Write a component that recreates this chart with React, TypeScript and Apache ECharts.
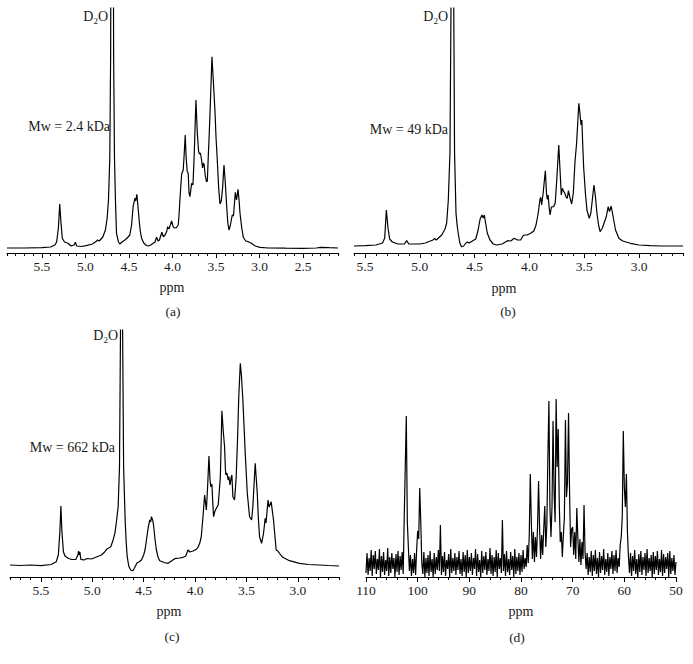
import React, { useEffect, useRef } from "react";
import * as echarts from "echarts";

const SERIF = "Liberation Serif, Times New Roman, serif";
const INK = "#1a1a1a";

// (a) 1H NMR, Mw = 2.4 kDa : [ppm, intensity]
const spectrumA: number[][] = [
  [5.9, 5], [5.7, 5], [5.5, 5.3], [5.4, 6], [5.35, 8], [5.33, 11], [5.31, 25], [5.295, 49], [5.28, 30],
  [5.265, 14.7], [5.24, 11], [5.2, 9.7], [5.165, 7], [5.13, 8], [5.115, 10.7], [5.1, 7], [5.05, 6.5],
  [4.99, 7.3], [4.92, 9], [4.87, 12], [4.86, 13], [4.84, 12], [4.8, 16], [4.77, 23], [4.75, 35],
  [4.735, 53], [4.72, 95], [4.71, 200], [4.70, 600], [4.693, 2000], [4.686, 600], [4.676, 200],
  [4.666, 95], [4.655, 53], [4.643, 19.7], [4.62, 11], [4.605, 9], [4.58, 11], [4.547, 13], [4.52, 15],
  [4.49, 18], [4.47, 28], [4.452, 46.3], [4.432, 54.7], [4.422, 52], [4.409, 58.7], [4.395, 45],
  [4.383, 33], [4.37, 22], [4.355, 14.7], [4.33, 10], [4.3, 7.5], [4.279, 7], [4.25, 8], [4.222, 9.7],
  [4.2, 11], [4.183, 15.7], [4.165, 12], [4.15, 13], [4.122, 20.7], [4.105, 16.3], [4.085, 18],
  [4.065, 22], [4.056, 26.3], [4.04, 24], [4.01, 32], [3.995, 27], [3.984, 25.3], [3.96, 25],
  [3.934, 28], [3.925, 38], [3.915, 53], [3.895, 79], [3.877, 83], [3.865, 100], [3.854, 118],
  [3.843, 95], [3.831, 81.3], [3.82, 80], [3.81, 60], [3.8, 56.3], [3.78, 69.7], [3.765, 68],
  [3.75, 100], [3.731, 153], [3.715, 120], [3.7, 101.3], [3.69, 99], [3.68, 100], [3.666, 93],
  [3.655, 85], [3.645, 90], [3.636, 88], [3.625, 78], [3.61, 71.3], [3.6, 72], [3.59, 95],
  [3.578, 119.7], [3.565, 150], [3.547, 196.3], [3.53, 170], [3.513, 143], [3.5, 115], [3.486, 93],
  [3.47, 65], [3.455, 49], [3.44, 52], [3.425, 65], [3.409, 88], [3.395, 72], [3.38, 49.7],
  [3.365, 30], [3.352, 23], [3.335, 28], [3.314, 38], [3.3, 37], [3.279, 60.7], [3.265, 53],
  [3.248, 63.7], [3.235, 52], [3.225, 39.7], [3.205, 25], [3.187, 15.7], [3.16, 12], [3.13, 11.3],
  [3.1, 10], [3.05, 7], [2.995, 5.7], [2.9, 5], [2.7, 4.8], [2.5, 4.7], [2.35, 5], [2.3, 5.7],
  [2.2, 5.3], [2.1, 5],
];

// (b) 1H NMR, Mw = 49 kDa
const spectrumB: number[][] = [
  [5.6, 7], [5.5, 7.3], [5.4, 8], [5.34, 10], [5.32, 15], [5.305, 43], [5.29, 25], [5.275, 14],
  [5.25, 11], [5.2, 9], [5.14, 9], [5.12, 12.3], [5.1, 9], [5.0, 9], [4.95, 10], [4.88, 13],
  [4.865, 14.7], [4.85, 13], [4.8, 18], [4.77, 24], [4.755, 30], [4.74, 53], [4.725, 100],
  [4.712, 300], [4.703, 1500], [4.693, 300], [4.683, 100], [4.67, 40], [4.66, 28], [4.65, 20],
  [4.635, 10], [4.62, 6.3], [4.6, 7], [4.58, 10], [4.565, 11], [4.55, 10], [4.52, 12], [4.49, 14],
  [4.47, 22], [4.45, 34], [4.433, 38], [4.422, 35], [4.412, 38], [4.4, 30], [4.385, 20], [4.36, 13],
  [4.33, 9], [4.3, 8], [4.25, 9], [4.2, 12.3], [4.17, 12], [4.14, 14.7], [4.11, 13], [4.08, 13],
  [4.06, 17], [4.045, 18], [4.02, 18], [3.99, 19.7], [3.96, 22], [3.94, 28], [3.92, 40], [3.905, 53],
  [3.897, 55.7], [3.889, 48], [3.875, 60], [3.862, 75], [3.855, 82.3], [3.845, 60], [3.838, 53.7],
  [3.83, 58], [3.82, 45], [3.812, 38], [3.8, 46], [3.78, 46.3], [3.765, 50], [3.75, 75], [3.733, 108],
  [3.72, 80], [3.71, 58], [3.7, 64.7], [3.69, 62], [3.68, 60.3], [3.665, 56], [3.655, 54.7],
  [3.645, 62.3], [3.63, 55], [3.615, 49], [3.6, 60], [3.585, 91], [3.57, 110], [3.55, 149.7],
  [3.54, 140], [3.53, 128], [3.522, 133], [3.515, 110], [3.506, 86], [3.49, 60], [3.476, 43],
  [3.455, 34.7], [3.44, 40], [3.425, 55], [3.412, 68], [3.4, 58], [3.385, 40], [3.37, 28],
  [3.356, 21.3], [3.335, 25], [3.31, 33], [3.3, 36], [3.282, 46.3], [3.27, 41.3], [3.255, 47],
  [3.24, 38], [3.215, 23], [3.185, 14.7], [3.15, 12], [3.08, 9.7], [3.0, 8], [2.9, 7.3], [2.8, 7],
  [2.6, 7],
];

// (c) 1H NMR, Mw = 662 kDa
const spectrumC: number[][] = [
  [5.8, 12], [5.7, 11.5], [5.6, 12], [5.5, 11.3], [5.4, 12.5], [5.35, 15.3], [5.33, 22], [5.315, 45],
  [5.305, 71], [5.295, 45], [5.28, 25], [5.265, 21], [5.234, 18.7], [5.2, 17.5], [5.159, 17.7],
  [5.14, 22], [5.133, 26], [5.127, 22], [5.12, 25], [5.111, 17.7], [5.08, 17], [5.05, 18.5],
  [5.007, 18], [4.96, 20], [4.91, 22], [4.88, 25], [4.861, 27.7], [4.84, 29], [4.82, 30.3], [4.8, 36],
  [4.78, 43.7], [4.765, 55], [4.748, 70.3], [4.735, 110], [4.725, 250], [4.715, 1500], [4.705, 250],
  [4.695, 110], [4.68, 57], [4.67, 35], [4.66, 20.3], [4.645, 11], [4.635, 8.7], [4.62, 6.5],
  [4.603, 6.3], [4.585, 10], [4.564, 14.3], [4.545, 15], [4.522, 17], [4.5, 22], [4.485, 28],
  [4.473, 37], [4.455, 50], [4.44, 57], [4.432, 55], [4.424, 60.3], [4.41, 56], [4.402, 50.3],
  [4.39, 38], [4.376, 27], [4.36, 20], [4.344, 16.3], [4.3, 14.5], [4.263, 13.7], [4.23, 16],
  [4.198, 18.3], [4.15, 19], [4.117, 19.7], [4.09, 21], [4.069, 27], [4.05, 25], [4.02, 26],
  [3.987, 27.7], [3.97, 30], [3.955, 33.7], [3.94, 40], [3.923, 60.3], [3.907, 82], [3.89, 67],
  [3.878, 90], [3.865, 121], [3.855, 98], [3.848, 90.3], [3.836, 93], [3.828, 75], [3.82, 60.3],
  [3.81, 65], [3.793, 68.7], [3.775, 72], [3.765, 85], [3.754, 100.3], [3.739, 166.3], [3.725, 145],
  [3.713, 130.3], [3.705, 108], [3.7, 102], [3.69, 104], [3.678, 97], [3.671, 100.3], [3.66, 92],
  [3.648, 100], [3.642, 102], [3.632, 80.3], [3.616, 77], [3.608, 88], [3.6, 100], [3.586, 140.3],
  [3.575, 180], [3.56, 213.7], [3.548, 200], [3.535, 177], [3.512, 123.7], [3.492, 83.7],
  [3.47, 60.3], [3.45, 57], [3.438, 70.3], [3.425, 95], [3.415, 113.7], [3.395, 83.7], [3.385, 60],
  [3.373, 40.3], [3.353, 33.7], [3.334, 43.7], [3.318, 58.7], [3.31, 54], [3.29, 77], [3.28, 70],
  [3.26, 75.3], [3.237, 57], [3.211, 27], [3.195, 26], [3.179, 23.7], [3.147, 19.7], [3.082, 16.3],
  [2.984, 13.7], [2.9, 12.5], [2.79, 12], [2.7, 11.5], [2.6, 11],
];

// (d) 13C NMR: intensities read from 110 ppm downward, one every 0.2 ppm
const carbonStartPpm = 110;
const carbonStepPpm = 0.2;
const carbonIntensity: number[] = [
  4, 24, 2, 19, 6, 27, 1, 22, 8, 26,
  3, 18, 7, 28, 0, 21, 5, 25, 2, 17,
  6, 29, 1, 20, 4, 24, 8, 19, 0, 23,
  5, 26, 2, 21, 7, 25, 3, 60, 110, 161,
  55, 30, 6, 22, 1, 18, 4, 24, 2, 27,
  46, 38, 89, 55, 14, 3, 25, 0, 19, 4,
  22, 1, 26, 5, 18, 0, 24, 3, 20, 7,
  27, 6, 52, 2, 21, 5, 25, 1, 17, 8,
  23, 0, 28, 4, 19, 6, 24, 2, 20, 7,
  26, 3, 18, 1, 25, 5, 22, 0, 27, 4,
  20, 6, 24, 2, 19, 8, 28, 1, 23, 5,
  17, 0, 26, 4, 21, 7, 25, 2, 18, 6,
  29, 3, 22, 1, 20, 5, 27, 0, 24, 8,
  19, 4, 57, 6, 23, 1, 26, 5, 18, 2,
  25, 7, 21, 0, 28, 3, 20, 6, 24, 2,
  22, 5, 27, 8, 19, 10, 32, 14, 42, 103,
  55, 18, 45, 15, 40, 20, 50, 96, 48, 18,
  42, 22, 48, 71, 30, 52, 120, 176, 70, 40,
  70, 156, 85, 55, 178, 110, 148, 75, 35, 45,
  20, 42, 60, 157, 80, 95, 164, 85, 30, 48,
  50, 22, 45, 18, 69, 40, 15, 38, 12, 35,
  18, 72, 25, 8, 24, 2, 20, 5, 26, 1,
  22, 6, 27, 3, 19, 0, 25, 4, 21, 7,
  28, 2, 18, 5, 24, 1, 20, 8, 26, 3,
  22, 6, 27, 4, 19, 10, 32, 40, 60, 146,
  90, 70, 103, 45, 20, 4, 24, 1, 21, 6,
  27, 3, 18, 0, 23, 5, 26, 2, 20, 7,
  24, 1, 28, 4, 19, 6, 22, 0, 25, 3,
  21, 7, 26, 2, 18, 5, 27, 1, 23, 4,
  20, 8, 24, 0, 26, 3, 19, 6, 22, 2,
  15,
];

// axis ranges and tick labels
const rangeA = [2.1, 5.9];
const rangeB = [2.6, 5.6];
const rangeC = [2.6, 5.8];
const rangeD = [50, 110];
const majorTicksA = [2.5, 3.0, 3.5, 4.0, 4.5, 5.0, 5.5];
const majorTicksB = [3.0, 3.5, 4.0, 4.5, 5.0, 5.5];
const majorTicksC = [3.0, 3.5, 4.0, 4.5, 5.0, 5.5];
const mwLabels = ["Mw = 2.4 kDa", "Mw = 49 kDa", "Mw = 662 kDa"];
const panelLabels = ["(a)", "(b)", "(c)", "(d)"];
const axisTitle = "ppm";

function tenths(min: number, max: number): number[] {
  const out: number[] = [];
  for (let i = Math.round(min * 10); i <= Math.round(max * 10); i++) out.push(i / 10);
  return out;
}

const labelStyle = { color: INK, fontSize: 13.5, fontFamily: SERIF, margin: 6 };

function protonAxes(gridIndex: number, range: number[], majors: number[]) {
  return [
    {
      type: "value", gridIndex, inverse: true, min: range[0], max: range[1], position: "bottom",
      axisLine: { show: true, onZero: false, lineStyle: { color: "#000", width: 1 } },
      axisTick: { show: true, customValues: majors, length: 5, lineStyle: { color: "#000", width: 1 } },
      axisLabel: { ...labelStyle, customValues: majors, formatter: (v: number) => v.toFixed(1) },
      splitLine: { show: false },
    },
    {
      type: "value", gridIndex, inverse: true, min: range[0], max: range[1], position: "bottom",
      axisLine: { show: false, onZero: false },
      axisTick: { show: true, customValues: tenths(range[0], range[1]), length: 3, lineStyle: { color: "#000", width: 1 } },
      axisLabel: { show: false },
      splitLine: { show: false },
    },
  ];
}

function txt(x: number, y: number, text: string, align: string, size = 14): any {
  return {
    type: "text", x, y, silent: true,
    style: {
      text, fontSize: size, fontFamily: SERIF, fill: INK,
      align, textAlign: align, verticalAlign: "middle", textVerticalAlign: "middle",
    },
  };
}

function d2o(xRight: number, yMid: number): any {
  return {
    type: "text", x: xRight, y: yMid, silent: true,
    style: {
      text: "{n|D}{s|2}{n|O}",
      align: "right", textAlign: "right", verticalAlign: "middle", textVerticalAlign: "middle",
      rich: {
        n: { fontSize: 14, fontFamily: SERIF, fill: INK, lineHeight: 18 },
        s: { fontSize: 9, fontFamily: SERIF, fill: INK, verticalAlign: "bottom", lineHeight: 10 },
      },
    },
  };
}

export default function App() {
  const ref = useRef<HTMLDivElement>(null);
  useEffect(() => {
    document.body.style.margin = "0";
    if (!ref.current) return;
    const chart = echarts.init(ref.current, null, { renderer: "svg" });
    const carbonData = carbonIntensity.map((v, i) => [carbonStartPpm - carbonStepPpm * i, v]);
    const lineSeries = (data: number[][], xAxisIndex: number, yAxisIndex: number) => ({
      type: "line", data, xAxisIndex, yAxisIndex, symbol: "none", showSymbol: false, clip: true,
      lineStyle: { color: "#000", width: 1.2 }, silent: true,
    });
    chart.setOption({
      animation: false,
      backgroundColor: "#fff",
      grid: [
        { left: 7, top: 8, width: 331, height: 245 },
        { left: 354, top: 8, width: 329, height: 245 },
        { left: 10, top: 330, width: 329, height: 247 },
        { left: 366, top: 330, width: 310, height: 247 },
      ],
      xAxis: [
        ...protonAxes(0, rangeA, majorTicksA),
        ...protonAxes(1, rangeB, majorTicksB),
        ...protonAxes(2, rangeC, majorTicksC),
        {
          type: "value", gridIndex: 3, inverse: true, min: rangeD[0], max: rangeD[1], interval: 10,
          position: "bottom",
          axisLine: { show: true, onZero: false, lineStyle: { color: "#000", width: 1 } },
          axisTick: { show: true, length: 5, lineStyle: { color: "#000", width: 1 } },
          minorTick: { show: true, splitNumber: 5, length: 3, lineStyle: { color: "#000", width: 1 } },
          axisLabel: { ...labelStyle, showMinLabel: true, showMaxLabel: true },
          splitLine: { show: false },
        },
      ],
      yAxis: [
        { type: "value", gridIndex: 0, min: 0, max: 245, show: false },
        { type: "value", gridIndex: 1, min: 0, max: 245, show: false },
        { type: "value", gridIndex: 2, min: 0, max: 247, show: false },
        { type: "value", gridIndex: 3, min: 0, max: 247, show: false },
      ],
      series: [
        lineSeries(spectrumA, 0, 0),
        lineSeries(spectrumB, 2, 1),
        lineSeries(spectrumC, 4, 2),
        { ...lineSeries(carbonData, 6, 3), lineStyle: { color: "#000", width: 1.2 } },
      ],
      graphic: [
        d2o(108, 16),
        txt(110, 126, mwLabels[0], "right"),
        txt(172, 287, axisTitle, "center", 14),
        txt(173, 311, panelLabels[0], "center", 13.5),
        d2o(448, 16),
        txt(448, 129, mwLabels[1], "right"),
        txt(504, 288, axisTitle, "center", 14),
        txt(508, 311, panelLabels[1], "center", 13.5),
        d2o(118, 335),
        txt(115, 447, mwLabels[2], "right"),
        txt(169, 611, axisTitle, "center", 14),
        txt(172, 636, panelLabels[2], "center", 13.5),
        txt(521, 611, axisTitle, "center", 14),
        txt(517, 637, panelLabels[3], "center", 13.5),
      ],
    });
    return () => chart.dispose();
  }, []);
  return <div ref={ref} style={{ width: 693, height: 664 }} />;
}
